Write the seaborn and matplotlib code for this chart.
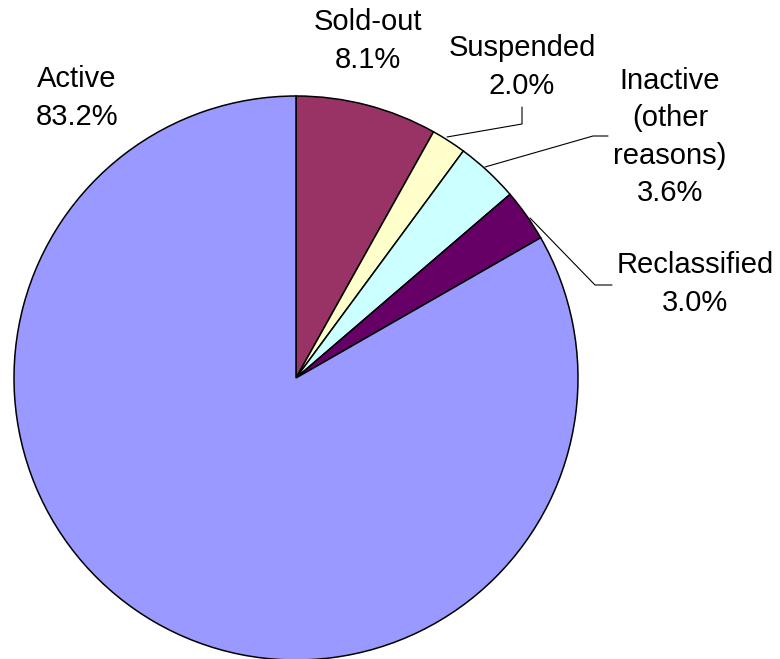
import matplotlib
matplotlib.use("Agg")
import matplotlib.pyplot as plt
import seaborn as sns

categories = ["Sold-out", "Suspended", "Inactive\n(other\nreasons)", "Reclassified", "Active"]
values = [8.1, 2.0, 3.6, 3.0, 83.2]
colors = ["#993366", "#FFFFCC", "#CCFFFF", "#660066", "#9999FF"]

sns.set_theme(style="white")
plt.rcParams['font.family'] = ['Liberation Sans', 'DejaVu Sans']

W, H = 780, 659
fig = plt.figure(figsize=(W / 100, H / 100), dpi=100)
ax = fig.add_axes([0, 0, 1, 1])

def py(y):
    return H - y

cx, cy, R = 296, 378, 282
ax.pie(values, colors=sns.color_palette(colors), startangle=90, counterclock=False,
       center=(cx, py(cy)), radius=R, frame=True,
       wedgeprops=dict(edgecolor="black", linewidth=1.1))
ax.set_xlim(0, W)
ax.set_ylim(0, H)
ax.set_aspect("equal")
ax.set_axis_off()

label_pos = [(368, 41), (522, 67), (670, 137), (695, 284), (77, 98)]
for cat, v, (x, y) in zip(categories, values, label_pos):
    ax.text(x, py(y), f"{cat}\n{v:.1f}%", ha="center", va="center", fontsize=21,
            linespacing=1.42, color="black")

leaders = [
    [(447, 137), (522, 124), (522, 107)],
    [(485, 167), (593, 136), (608, 136)],
    [(530, 218), (595, 285), (612, 285)],
]
for pts in leaders:
    ax.plot([p[0] for p in pts], [py(p[1]) for p in pts], color="black", lw=0.8)

fig.savefig("out.png", dpi=100)
